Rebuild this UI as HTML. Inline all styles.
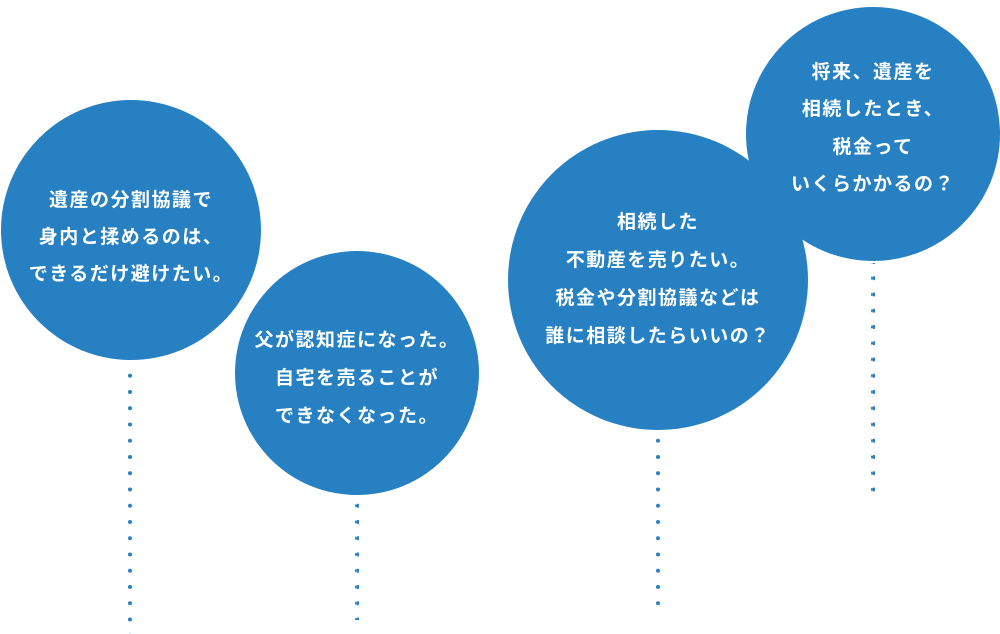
<!DOCTYPE html>
<html><head><meta charset="utf-8"><style>
body{margin:0;width:1000px;height:634px;background:#fff;overflow:hidden}
svg{display:block}
text{font-family:"Liberation Sans","Noto Sans CJK JP",sans-serif;font-size:19px;fill:#fff;text-anchor:middle;font-weight:bold;letter-spacing:1.5px}
</style></head><body>
<svg width="1000" height="634" viewBox="0 0 1000 634">
<defs><pattern id="d" width="4" height="16.25" patternUnits="userSpaceOnUse"><circle cx="2" cy="2" r="2" fill="#2680c2"/></pattern></defs>
<g fill="#2680c2">
<circle cx="131" cy="230" r="130"/>
<circle cx="357" cy="373" r="122"/>
<circle cx="873" cy="134" r="127"/>
<circle cx="658" cy="280" r="150"/>
</g>
<rect x="128" y="372" width="4" height="262" fill="url(#d)"/>
<rect x="355" y="503" width="4" height="117" fill="url(#d)"/>
<rect x="656" y="438" width="4" height="168" fill="url(#d)"/>
<rect x="871" y="263" width="4" height="232" fill="url(#d)"/>
<text x="131" y="206">遺産の分割協議で</text>
<text x="131" y="243">身内と揉めるのは、</text>
<text x="131" y="280">できるだけ避けたい。</text>
<text x="357" y="346">父が認知症になった。</text>
<text x="357" y="384">自宅を売ることが</text>
<text x="357" y="422">できなくなった。</text>
<text x="658" y="228">相続した</text>
<text x="658" y="266">不動産を売りたい。</text>
<text x="658" y="304">税金や分割協議などは</text>
<text x="658" y="342">誰に相談したらいいの？</text>
<text x="873" y="78">将来、遺産を</text>
<text x="873" y="115">相続したとき、</text>
<text x="873" y="153">税金って</text>
<text x="873" y="190">いくらかかるの？</text>
</svg>
</body></html>
